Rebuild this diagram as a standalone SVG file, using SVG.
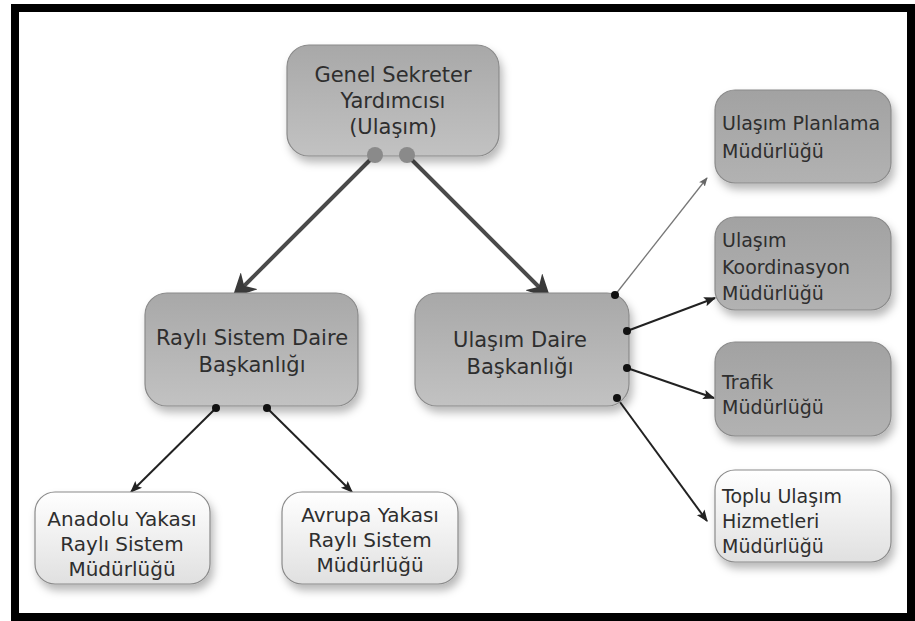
<svg xmlns="http://www.w3.org/2000/svg" width="915" height="621" viewBox="0 0 915 621">
<defs>
<linearGradient id="gDark" x1="0" y1="0" x2="0" y2="1">
<stop offset="0" stop-color="#a2a2a2"/><stop offset="1" stop-color="#b2b2b2"/>
</linearGradient>
<linearGradient id="gMid" x1="0" y1="0" x2="0" y2="1">
<stop offset="0" stop-color="#a8a8a8"/><stop offset="1" stop-color="#c2c2c2"/>
</linearGradient>
<linearGradient id="gLight" x1="0" y1="0" x2="0" y2="1">
<stop offset="0" stop-color="#ffffff"/><stop offset="1" stop-color="#e0e0e0"/>
</linearGradient>
<filter id="sh" x="-20%" y="-20%" width="140%" height="150%">
<feDropShadow dx="3" dy="6" stdDeviation="4" flood-color="#000" flood-opacity="0.28"/>
</filter>
<marker id="aBig" viewBox="0 0 10 10" refX="9" refY="5" markerWidth="6" markerHeight="6" orient="auto" markerUnits="strokeWidth">
<path d="M0,0 L10,5 L0,10 L3,5 Z" fill="#3a3a3a"/>
</marker>
<marker id="aSm" viewBox="0 0 10 10" refX="9" refY="5" markerWidth="6" markerHeight="6" orient="auto" markerUnits="strokeWidth">
<path d="M0,1 L10,5 L0,9 L2,5 Z" fill="#222"/>
</marker>
<marker id="aGr" viewBox="0 0 10 10" refX="9" refY="5" markerWidth="7" markerHeight="7" orient="auto" markerUnits="strokeWidth">
<path d="M0,1 L10,5 L0,9 L2,5 Z" fill="#666"/>
</marker>
</defs>
<style>
.box{stroke:#8a8a8a;stroke-width:1.2;filter:url(#sh)}
.dark{fill:url(#gDark)}
.mid{fill:url(#gMid)}
.light{fill:url(#gLight)}
text{font-family:"DejaVu Sans","Liberation Sans",sans-serif;fill:#2e2e2e}
.c{text-anchor:middle;font-size:21px}
.cs{text-anchor:middle;font-size:20px}
.l{text-anchor:start;font-size:19px}
.big{stroke:#4a4a4a;stroke-width:4;fill:none}
.sm{stroke:#222;stroke-width:2;fill:none}
.gr{stroke:#777;stroke-width:1.3;fill:none}
</style>
<rect x="0" y="0" width="915" height="621" fill="#fff"/>
<rect x="15" y="8" width="896" height="609" fill="#fff" stroke="#000" stroke-width="8"/>

<g id="connectors">
<line class="big" x1="375" y1="155" x2="234" y2="296" marker-end="url(#aBig)"/>
<line class="big" x1="407" y1="155" x2="549" y2="297" marker-end="url(#aBig)"/>
<line class="sm" x1="216" y1="408" x2="131" y2="492" marker-end="url(#aSm)"/>
<line class="sm" x1="267" y1="408" x2="352" y2="492" marker-end="url(#aSm)"/>
<line class="gr" x1="615" y1="295" x2="707" y2="178" marker-end="url(#aGr)"/>
<line class="sm" x1="627" y1="331" x2="715" y2="298" marker-end="url(#aSm)"/>
<line class="sm" x1="627" y1="368" x2="714" y2="398" marker-end="url(#aSm)"/>
<line class="sm" x1="617" y1="398" x2="707" y2="521" marker-end="url(#aSm)"/>
</g>

<g id="n-genel">
<rect class="box mid" x="287" y="45" width="212" height="111" rx="22"/>
<text class="c" x="393" y="82">Genel Sekreter</text>
<text class="c" x="393" y="108">Yardımcısı</text>
<text class="c" x="393" y="134">(Ulaşım)</text>
<circle cx="375" cy="155" r="8" fill="#8a8a8a"/>
<circle cx="407" cy="155" r="8" fill="#8a8a8a"/>
</g>

<g id="n-rayli">
<rect class="box mid" x="145" y="293" width="213" height="113" rx="22"/>
<text class="c" x="252" y="345">Raylı Sistem Daire</text>
<text class="c" x="252" y="372">Başkanlığı</text>
<circle cx="216" cy="408" r="4" fill="#111"/>
<circle cx="267" cy="408" r="4" fill="#111"/>
</g>

<g id="n-ulasim">
<rect class="box mid" x="415" y="293" width="214" height="113" rx="22"/>
<text class="c" x="520" y="347">Ulaşım Daire</text>
<text class="c" x="520" y="374">Başkanlığı</text>
<circle cx="615" cy="295" r="4" fill="#111"/>
<circle cx="627" cy="331" r="4" fill="#111"/>
<circle cx="627" cy="368" r="4" fill="#111"/>
<circle cx="617" cy="398" r="4" fill="#111"/>
</g>

<g id="n-planlama">
<rect class="box dark" x="715" y="90" width="176" height="93" rx="20"/>
<text class="l" x="722" y="130">Ulaşım Planlama</text>
<text class="l" x="722" y="158">Müdürlüğü</text>
</g>

<g id="n-koord">
<rect class="box dark" x="715" y="217" width="176" height="93" rx="20"/>
<text class="l" x="722" y="247">Ulaşım</text>
<text class="l" x="722" y="274">Koordinasyon</text>
<text class="l" x="722" y="300">Müdürlüğü</text>
</g>

<g id="n-trafik">
<rect class="box dark" x="715" y="342" width="176" height="94" rx="20"/>
<text class="l" x="722" y="389">Trafik</text>
<text class="l" x="722" y="414">Müdürlüğü</text>
</g>

<g id="n-toplu">
<rect class="box light" x="715" y="470" width="176" height="92" rx="20"/>
<text class="l" x="722" y="503">Toplu Ulaşım</text>
<text class="l" x="722" y="528">Hizmetleri</text>
<text class="l" x="722" y="553">Müdürlüğü</text>
</g>

<g id="n-anadolu">
<rect class="box light" x="35" y="492" width="175" height="92" rx="20"/>
<text class="cs" x="122" y="526">Anadolu Yakası</text>
<text class="cs" x="122" y="551">Raylı Sistem</text>
<text class="cs" x="122" y="576">Müdürlüğü</text>
</g>

<g id="n-avrupa">
<rect class="box light" x="282" y="492" width="176" height="92" rx="20"/>
<text class="cs" x="370" y="522">Avrupa Yakası</text>
<text class="cs" x="370" y="547">Raylı Sistem</text>
<text class="cs" x="370" y="572">Müdürlüğü</text>
</g>
</svg>
